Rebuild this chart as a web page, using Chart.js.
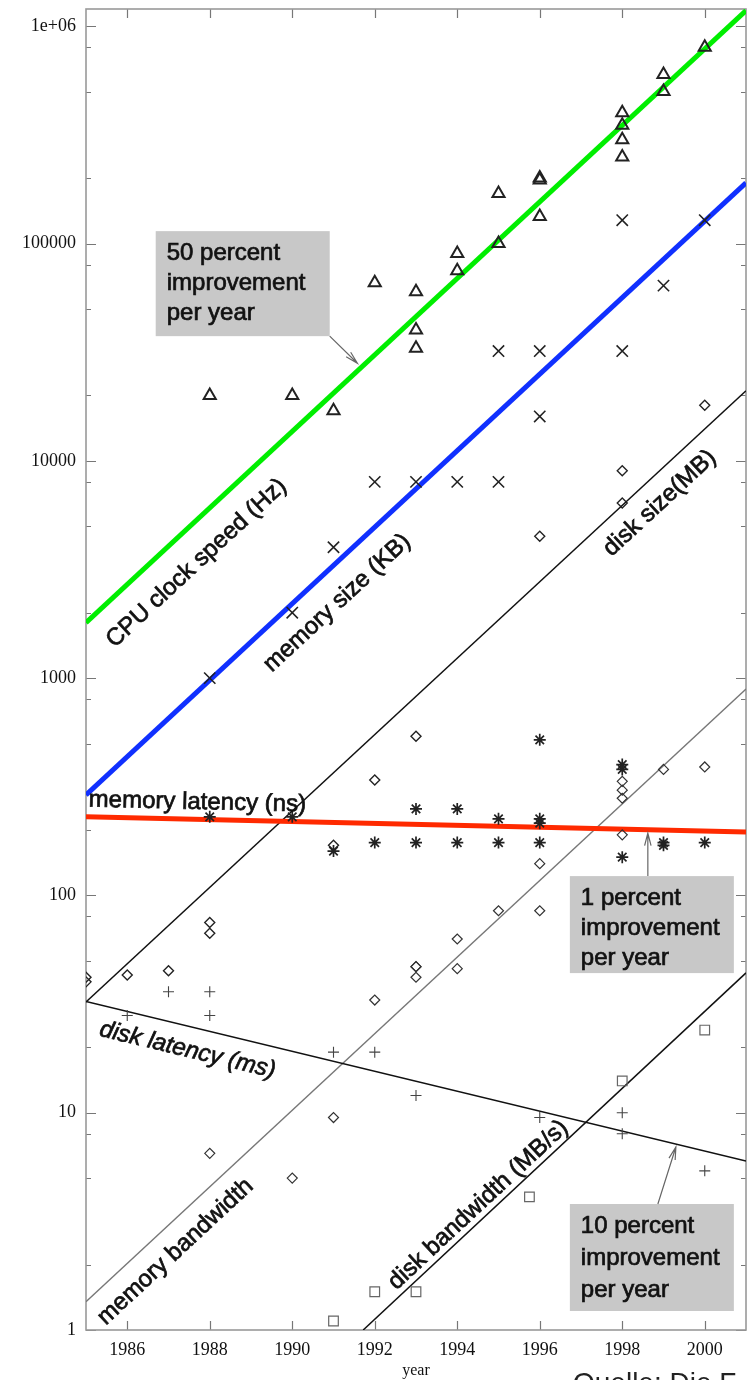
<!DOCTYPE html>
<html>
<head>
<meta charset="utf-8">
<script src="https://cdn.jsdelivr.net/npm/chart.js@4"></script>
<style>
  html, body { margin: 0; padding: 0; background: #fff; overflow: hidden; }
  canvas { display: block; }
</style>
</head>
<body>
<canvas id="myChart" width="749" height="1380"></canvas>
<script>
// axes
const yearTicks = [1986, 1988, 1990, 1992, 1994, 1996, 1998, 2000];
const yMajorTicks = [1, 10, 100, 1000, 10000, 100000, 1000000];
const yTickLabels = ['1', '10', '100', '1000', '10000', '100000', '1e+06'];
const yMinorSteps = [2, 5, 8];

// measured points
const cpuYears = [1988, 1990, 1991, 1992, 1993, 1993, 1993, 1994, 1994, 1995, 1995, 1996, 1996, 1996, 1998, 1998, 1998, 1998, 1999, 1999, 2000];
const cpuSpeed = [20000, 20000, 17000, 66000, 60000, 40000, 33000, 90000, 75000, 170000, 100000, 200000, 196000, 133000, 400000, 350000, 300000, 250000, 600000, 500000, 800000];

const memSizeYears = [1988, 1990, 1991, 1992, 1993, 1994, 1995, 1995, 1996, 1996, 1998, 1998, 1999, 2000];
const memSize = [1000, 2000, 4000, 8000, 8000, 8000, 8000, 32000, 32000, 16000, 128000, 32000, 64000, 128000];

const memLatYears = [1988, 1990, 1991, 1992, 1993, 1993, 1994, 1994, 1995, 1995, 1996, 1996, 1996, 1996, 1998, 1998, 1998, 1999, 1999, 2000];
const memLatency = [230, 230, 160, 175, 250, 175, 250, 175, 225, 175, 520, 225, 215, 175, 400, 380, 150, 175, 170, 175];

const diskSizeYears = [1985, 1985, 1986, 1987, 1988, 1988, 1991, 1992, 1993, 1996, 1998, 1998, 2000];
const diskSize = [42, 40, 43, 45, 75, 67, 170, 340, 540, 4500, 6400, 9000, 18000];

const memBwYears = [1988, 1990, 1991, 1992, 1993, 1993, 1993, 1994, 1994, 1995, 1996, 1996, 1998, 1998, 1998, 1998, 1999, 2000];
const memBandwidth = [6.5, 5, 9.5, 33, 47, 47, 42, 63, 46, 85, 85, 140, 335, 305, 280, 190, 380, 390];

const diskLatYears = [1986, 1987, 1988, 1988, 1991, 1992, 1993, 1996, 1998, 1998, 2000];
const diskLatency = [28, 36, 36, 28, 19, 19, 12, 9.5, 10, 8, 5.4];

const diskBwYears = [1991, 1992, 1993, 1995.75, 1998, 2000];
const diskBandwidth = [1.1, 1.5, 1.5, 4.1, 14, 24];

// trend lines (end points)
const trendYears = [1985, 2001];
const cpuTrend = [1800, 1180000];
const memSizeTrend = [290, 190000];
const memLatencyTrend = [230, 196];
const diskSizeTrend = [32.3, 21000];
const diskLatencyTrend = [32.5, 6.0];
const memBandwidthTrend = [1.35, 890];
const diskBwTrendYears = [1991.72, 2001];
const diskBwTrend = [1, 44];

const pts = (xs, ys) => xs.map((x, i) => ({ x: x, y: ys[i] }));

function trendSet(xs, ys, color, width) {
  return {
    type: 'line', data: pts(xs, ys), borderColor: color, borderWidth: width,
    pointRadius: 0, showLine: true, fill: false, order: 2
  };
}

function markerSet(xs, ys, style, radius, color, width) {
  return {
    data: pts(xs, ys), pointStyle: style, pointRadius: radius,
    borderColor: color, borderWidth: width, backgroundColor: 'rgba(0,0,0,0)',
    showLine: false, order: 1
  };
}

// annotations, anchored in data coordinates
const lineLabels = [
  { text: 'CPU clock speed (Hz)', at: [1987.68, 3380], xs: trendYears, ys: cpuTrend },
  { text: 'memory size (KB)', at: [1991.09, 2213], xs: trendYears, ys: memSizeTrend },
  { text: 'disk size(MB)', at: [1998.91, 6380], xs: trendYears, ys: diskSizeTrend },
  { text: 'memory latency (ns)', at: [1987.70, 268], xs: trendYears, ys: memLatencyTrend },
  { text: 'disk latency (ms)', at: [1987.46, 19.4], xs: trendYears, ys: diskLatencyTrend, italic: true },
  { text: 'memory bandwidth', at: [1987.17, 2.29], xs: trendYears, ys: memBandwidthTrend },
  { text: 'disk bandwidth (MB/s)', at: [1994.51, 3.76], xs: diskBwTrendYears, ys: diskBwTrend }
];

const noteBoxes = [
  { lines: ['50 percent', 'improvement', 'per year'], at: [1986.69, 114000], w: 174, h: 105, gap: 30, arrowStart: [174, 105], arrowTo: [1991.58, 28100] },
  { lines: ['1 percent', 'improvement', 'per year'], at: [1996.73, 122.7], w: 164, h: 97, gap: 30, arrowStart: [78, 0], arrowTo: [1998.62, 193.6] },
  { lines: ['10 percent', 'improvement', 'per year'], at: [1996.73, 3.8], w: 164, h: 107, gap: 32, arrowStart: [88, 0], arrowTo: [1999.30, 6.95] }
];

const FONT = '"Liberation Sans", Arial, sans-serif';
const SERIF = '"Liberation Serif", "Times New Roman", serif';

function heavyText(ctx, s, x, y) {
  ctx.strokeText(s, x, y);
  ctx.fillText(s, x, y);
}

const frameTicks = {
  id: 'frameTicks',
  beforeDatasetsDraw(chart) {
    const { ctx, chartArea: a, scales: { x, y } } = chart;
    ctx.save();
    ctx.strokeStyle = '#777';
    ctx.lineWidth = 1.2;
    ctx.beginPath();
    y.ticks.forEach(t => {
      const py = Math.round(y.getPixelForValue(t.value)) + 0.5;
      const len = yMajorTicks.includes(t.value) ? 10 : 5;
      ctx.moveTo(a.left, py); ctx.lineTo(a.left + len, py);
      ctx.moveTo(a.right, py); ctx.lineTo(a.right - len, py);
    });
    x.ticks.forEach(t => {
      const px = Math.round(x.getPixelForValue(t.value)) + 0.5;
      ctx.moveTo(px, a.bottom); ctx.lineTo(px, a.bottom - 9);
      ctx.moveTo(px, a.top); ctx.lineTo(px, a.top + 9);
    });
    ctx.stroke();
    ctx.strokeStyle = '#999';
    ctx.lineWidth = 1.6;
    ctx.strokeRect(a.left, a.top, a.right - a.left, a.bottom - a.top);
    ctx.restore();
  },
  afterDraw(chart) {
    const { ctx, scales: { x, y } } = chart;
    ctx.save();
    ctx.fillStyle = '#111';
    ctx.strokeStyle = '#111';
    ctx.lineWidth = 0.7;
    ctx.textAlign = 'center';
    ctx.textBaseline = 'middle';
    lineLabels.forEach(l => {
      const px = x.getPixelForValue(l.at[0]);
      const py = y.getPixelForValue(l.at[1]);
      const ang = Math.atan2(
        y.getPixelForValue(l.ys[1]) - y.getPixelForValue(l.ys[0]),
        x.getPixelForValue(l.xs[1]) - x.getPixelForValue(l.xs[0]));
      ctx.save();
      ctx.translate(px, py);
      ctx.rotate(ang);
      ctx.font = (l.italic ? 'italic ' : '') + '24px ' + FONT;
      heavyText(ctx, l.text, 0, 0);
      ctx.restore();
    });

    noteBoxes.forEach(b => {
      const bx = x.getPixelForValue(b.at[0]);
      const by = y.getPixelForValue(b.at[1]);
      ctx.fillStyle = '#c8c8c8';
      ctx.fillRect(bx, by, b.w, b.h);
      ctx.fillStyle = '#111';
      ctx.strokeStyle = '#111';
      ctx.lineWidth = 0.7;
      ctx.textAlign = 'left';
      ctx.font = '24px ' + FONT;
      b.lines.forEach((s, i) => heavyText(ctx, s, bx + 11, by + 22 + i * b.gap));
      // arrow
      const sx = bx + b.arrowStart[0], sy = by + b.arrowStart[1];
      const tx = x.getPixelForValue(b.arrowTo[0]), ty = y.getPixelForValue(b.arrowTo[1]);
      const ang = Math.atan2(ty - sy, tx - sx);
      ctx.strokeStyle = '#666';
      ctx.lineWidth = 1.2;
      ctx.beginPath();
      ctx.moveTo(sx, sy); ctx.lineTo(tx, ty);
      ctx.moveTo(tx - 13 * Math.cos(ang - 0.25), ty - 13 * Math.sin(ang - 0.25));
      ctx.lineTo(tx, ty);
      ctx.lineTo(tx - 13 * Math.cos(ang + 0.25), ty - 13 * Math.sin(ang + 0.25));
      ctx.stroke();
    });

    // source line, cut off by the bottom edge
    ctx.fillStyle = '#222';
    ctx.textAlign = 'left';
    ctx.textBaseline = 'alphabetic';
    ctx.font = '28px ' + FONT;
    ctx.fillText('Quelle: Die F', 573, 1392);
    ctx.restore();
  }
};

const noPad = s => { s.paddingTop = 0; s.paddingBottom = 0; s.paddingLeft = 0; s.paddingRight = 0; };

const data = {
  datasets: [
    trendSet(trendYears, cpuTrend, '#00ee00', 5),
    trendSet(trendYears, memSizeTrend, '#1030ff', 5),
    trendSet(trendYears, memLatencyTrend, '#ff2a00', 5),
    trendSet(trendYears, diskSizeTrend, '#111', 1.5),
    trendSet(trendYears, diskLatencyTrend, '#111', 1.5),
    trendSet(trendYears, memBandwidthTrend, '#777', 1.3),
    trendSet(diskBwTrendYears, diskBwTrend, '#111', 1.5),
    markerSet(cpuYears, cpuSpeed, 'triangle', 7, '#222', 2),
    markerSet(memSizeYears, memSize, 'crossRot', 8, '#222', 1.6),
    markerSet(memLatYears, memLatency, 'star', 6, '#222', 1.7),
    markerSet(diskSizeYears, diskSize, 'rectRot', 5, '#222', 1.4),
    markerSet(memBwYears, memBandwidth, 'rectRot', 5, '#333', 1.2),
    markerSet(diskLatYears, diskLatency, 'cross', 5.5, '#444', 1.1),
    markerSet(diskBwYears, diskBandwidth, 'rect', 6.8, '#666', 1.2)
  ]
};

const config = {
  type: 'scatter',
  data: data,
  options: {
    responsive: false,
    animation: false,
    layout: { autoPadding: false, padding: { top: 9, right: 3, left: 0, bottom: 0 } },
    plugins: { legend: { display: false }, tooltip: { enabled: false } },
    scales: {
      x: {
        type: 'linear',
        min: 1985,
        max: 2001,
        grid: { display: false, drawTicks: false },
        border: { display: false },
        afterBuildTicks: s => { s.ticks = yearTicks.map(v => ({ value: v })); },
        afterFit: s => { s.height = 50; noPad(s); },
        ticks: {
          autoSkip: false,
          maxRotation: 0,
          padding: 9,
          color: '#111',
          font: { family: SERIF, size: 18 },
          callback: v => String(v)
        },
        title: {
          display: true,
          text: 'year',
          color: '#111',
          padding: { top: 0, bottom: 0 },
          font: { family: SERIF, size: 16 }
        }
      },
      y: {
        type: 'logarithmic',
        min: 1,
        max: 1200000,
        grid: { display: false, drawTicks: false },
        border: { display: false },
        afterBuildTicks: s => {
          const t = [];
          yMajorTicks.forEach((m, i) => {
            t.push({ value: m });
            if (i < yMajorTicks.length - 1) yMinorSteps.forEach(k => t.push({ value: m * k }));
          });
          s.ticks = t;
        },
        afterFit: s => { s.width = 86; noPad(s); },
        ticks: {
          autoSkip: false,
          padding: 10,
          color: '#111',
          font: { family: SERIF, size: 18 },
          callback: v => {
            const i = yMajorTicks.indexOf(v);
            return i >= 0 ? yTickLabels[i] : '';
          }
        }
      }
    }
  },
  plugins: [frameTicks]
};

const myChart = new Chart(document.getElementById('myChart'), config);
</script>
</body>
</html>
